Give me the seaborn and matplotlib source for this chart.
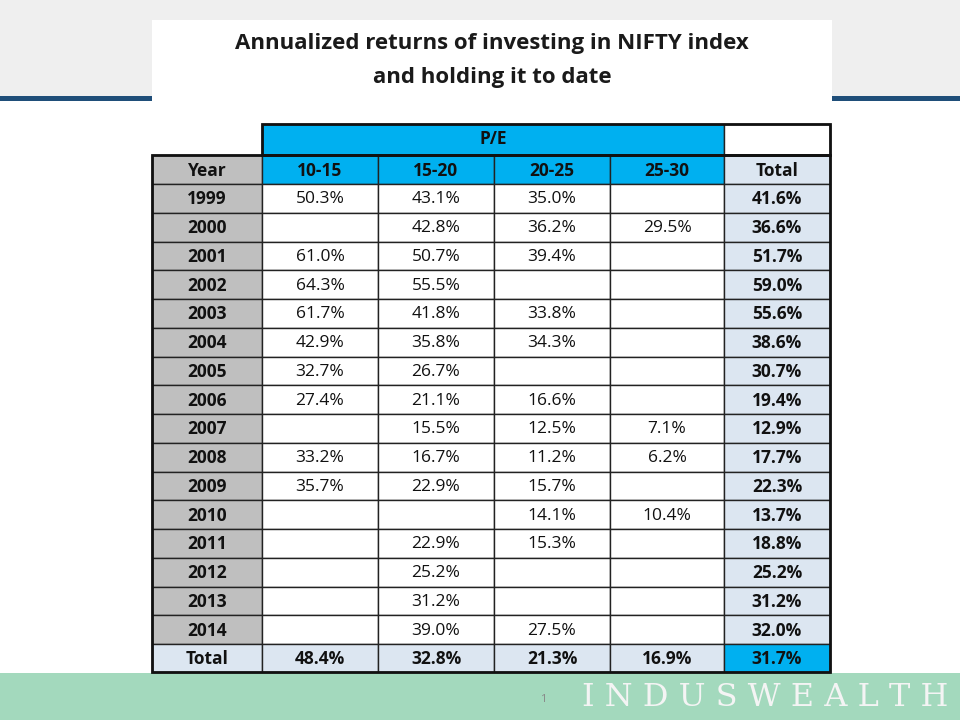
import matplotlib as mpl

mpl.use('Agg')
import numpy as np
import matplotlib.pyplot as plt
from matplotlib.patches import Rectangle
import seaborn as sns

sns.set_theme(style='white')
plt.rcParams['font.family'] = ['Open Sans', 'DejaVu Sans']

years = ['1999', '2000', '2001', '2002', '2003', '2004', '2005', '2006',
         '2007', '2008', '2009', '2010', '2011', '2012', '2013', '2014']
pe_bands = ['10-15', '15-20', '20-25', '25-30']
pe_10_15 = [50.3, None, 61.0, 64.3, 61.7, 42.9, 32.7, 27.4, None, 33.2, 35.7, None, None, None, None, None]
pe_15_20 = [43.1, 42.8, 50.7, 55.5, 41.8, 35.8, 26.7, 21.1, 15.5, 16.7, 22.9, None, 22.9, 25.2, 31.2, 39.0]
pe_20_25 = [35.0, 36.2, 39.4, None, 33.8, 34.3, None, 16.6, 12.5, 11.2, 15.7, 14.1, 15.3, None, None, 27.5]
pe_25_30 = [None, 29.5, None, None, None, None, None, None, 7.1, 6.2, None, 10.4, None, None, None, None]
row_total = [41.6, 36.6, 51.7, 59.0, 55.6, 38.6, 30.7, 19.4, 12.9, 17.7, 22.3, 13.7, 18.8, 25.2, 31.2, 32.0]
col_total = [48.4, 32.8, 21.3, 16.9]
grand_total = 31.7

fig = plt.figure(figsize=(9.6, 7.2), dpi=100)
ax = fig.add_axes([0, 0, 1, 1])
ax.set_xlim(0, 960)
ax.set_ylim(720, 0)
ax.axis('off')

# slide decoration
ax.add_patch(Rectangle((0, 0), 960, 96, color='#efefef', lw=0))
ax.add_patch(Rectangle((0, 96), 960, 5, color='#1f4e79', lw=0))
ax.add_patch(Rectangle((0, 673), 960, 47, color='#a3d9bd', lw=0))
ax.text(948, 697, 'I N D U S W E A L T H', fontsize=23, family='DejaVu Serif',
        color='#f4f4f4', ha='right', va='center')
ax.text(543, 699, '1', fontsize=8, color='#888888', ha='center', va='center')

# white panel
ax.add_patch(Rectangle((152, 20), 680, 653, color='white', lw=0))
ax.text(492, 43, 'Annualized returns of investing in NIFTY index', fontsize=16,
        fontweight='bold', ha='center', va='center', color='#1a1a1a')
ax.text(492, 77, 'and holding it to date', fontsize=16,
        fontweight='bold', ha='center', va='center', color='#1a1a1a')

xs = [152, 262, 378, 494, 610, 724, 830]
y_head1, y_head2 = 124, 155
row_h = 28.75
y_rows = [184 + i * row_h for i in range(len(years) + 1)]
cols = [pe_10_15, pe_15_20, pe_20_25, pe_25_30]

def cell(x0, x1, y0, y1, fc, txt='', bold=False):
    ax.add_patch(Rectangle((x0, y0), x1 - x0, y1 - y0, facecolor=fc,
                           edgecolor='#222222', lw=1))
    if txt:
        ax.text((x0 + x1) / 2, (y0 + y1) / 2 + 1, txt, fontsize=12.5,
                fontweight='bold' if bold else 'normal', ha='center', va='center',
                color='#111111')

# header rows
ax.add_patch(Rectangle((262, y_head1), 462, y_head2 - y_head1, facecolor='#00b0f0',
                       edgecolor='#222222', lw=1))
ax.text(493, (y_head1 + y_head2) / 2, 'P/E', fontsize=12.5, fontweight='bold',
        ha='center', va='center', color='#111111')
cell(xs[5], xs[6], y_head1, y_head2, 'white')
cell(xs[0], xs[1], y_head2, y_rows[0], '#bfbfbf', 'Year', True)
for j, b in enumerate(pe_bands):
    cell(xs[j + 1], xs[j + 2], y_head2, y_rows[0], '#00b0f0', b, True)
cell(xs[5], xs[6], y_head2, y_rows[0], '#dce6f1', 'Total', True)

# body
for i, yr in enumerate(years):
    y0, y1 = y_rows[i], y_rows[i] + row_h
    cell(xs[0], xs[1], y0, y1, '#bfbfbf', yr, True)
    for j, c in enumerate(cols):
        v = c[i]
        cell(xs[j + 1], xs[j + 2], y0, y1, 'white', '' if v is None else f'{v:.1f}%')
    cell(xs[5], xs[6], y0, y1, '#dce6f1', f'{row_total[i]:.1f}%', True)

# total row
y0 = y_rows[-1]
y1 = y0 + 28
cell(xs[0], xs[1], y0, y1, '#dce6f1', 'Total', True)
for j, v in enumerate(col_total):
    cell(xs[j + 1], xs[j + 2], y0, y1, '#dce6f1', f'{v:.1f}%', True)
cell(xs[5], xs[6], y0, y1, '#00b0f0', f'{grand_total:.1f}%', True)

# thick outer border of table
ax.add_patch(Rectangle((152, y_head2), 678, y1 - y_head2, fill=False,
                       edgecolor='#111111', lw=2))
ax.add_patch(Rectangle((262, y_head1), 568, y_head2 - y_head1, fill=False,
                       edgecolor='#111111', lw=2))

plt.savefig('out.png', dpi=100)
